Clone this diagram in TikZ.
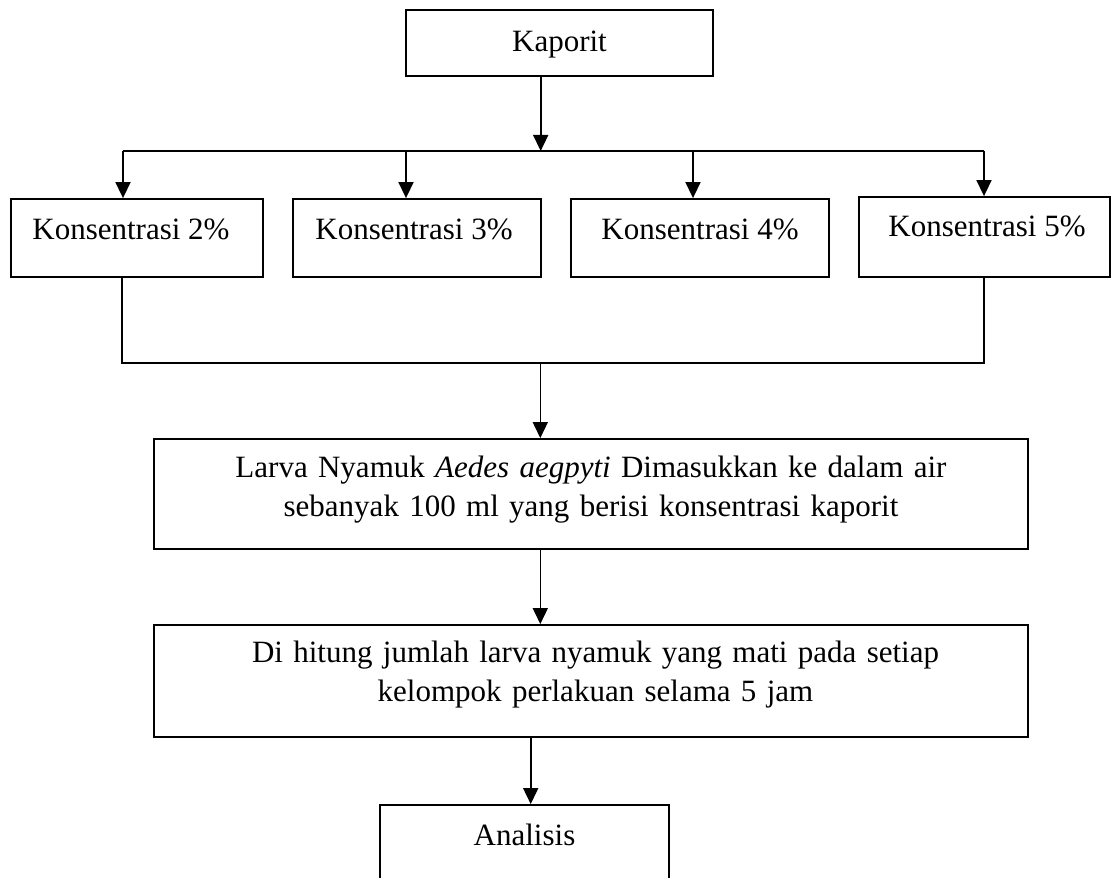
\documentclass[tikz,border=0pt]{standalone}
\usepackage{fontspec}
\setmainfont{Liberation Serif}
\usetikzlibrary{arrows.meta}
\begin{document}
\begin{tikzpicture}[x=1pt,y=1pt,
  box/.style={draw, line width=1.8pt, inner sep=0pt, font=\fontsize{31}{38.7}\selectfont},
  konbox/.style={box, minimum height=78pt, text height=24pt, text depth=20pt},
  wide/.style={box, minimum width=874pt, text width=840pt, align=center, text height=24pt},
  conn/.style={line width=1.6pt},
  arr/.style={conn, -{Triangle[width=15pt,length=16pt]}},
]
\useasboundingbox (0,0) rectangle (1112,878);
\clip (0,0) rectangle (1112,878);
\fill[white] (0,0) rectangle (1112,878);

\node[box, minimum width=307pt, minimum height=66pt, text height=24pt, text depth=6pt] (kap) at (559.5,835) {Kaporit};

\node[konbox, minimum width=252pt] (k1) at (137,640) {\hspace*{-12pt}Konsentrasi 2\%};
\node[konbox, minimum width=248pt] (k2) at (417,640) {\hspace*{-6pt}Konsentrasi 3\%};
\node[konbox, minimum width=258pt] (k3) at (700,640) {Konsentrasi 4\%};
\node[konbox, minimum width=251pt, minimum height=80pt, text depth=24pt] (k4) at (984.5,641) {Konsentrasi 5\%\hspace*{-5pt}};

\node[wide, minimum height=110pt, text depth=56pt] (larva) at (591,384)
  {Larva Nyamuk \textit{Aedes aegpyti} Dimasukkan ke dalam air\\sebanyak 100 ml yang berisi konsentrasi kaporit};

\node[wide, minimum height=112pt, text depth=60pt] (dh) at (591,197)
  {\hspace*{9pt}Di hitung jumlah larva nyamuk yang mati pada setiap\\\hspace*{9pt}kelompok perlakuan selama 5 jam};

\node[box, minimum width=289pt, minimum height=100pt, text height=24pt, text depth=42pt] (ana) at (524.5,23) {Analisis};

\coordinate (j0) at (540.7,727);
\coordinate (j1) at (123,727);
\coordinate (j2) at (406,727);
\coordinate (j3) at (693,727);
\coordinate (j4) at (984,727);
\draw[arr] (kap.south -| j0) -- (j0);
\draw[conn] (j1) -- (j4);
\draw[arr] (j1) -- (k1.north -| j1);
\draw[arr] (j2) -- (k2.north -| j2);
\draw[arr] (j3) -- (k3.north -| j3);
\draw[arr] (j4) -- (k4.north -| j4);

\coordinate (b1) at (122,515);
\coordinate (b4) at (984,515);
\coordinate (b0) at (540.3,515);
\draw[conn] (k1.south -| b1) -- (b1) -- (b4) -- (k4.south -| b4);
\draw[arr] (b0) -- (larva.north -| b0);
\draw[arr] (larva.south -| b0) -- (dh.north -| b0);

\coordinate (c0) at (530.7,0);
\draw[arr] (dh.south -| c0) -- (ana.north -| c0);
\end{tikzpicture}
\end{document}
